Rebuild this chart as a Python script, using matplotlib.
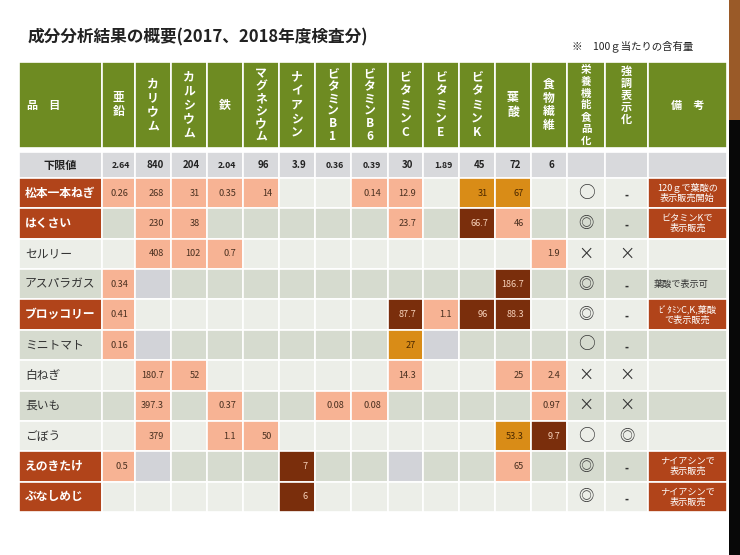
import matplotlib.pyplot as plt
from matplotlib.patches import Rectangle

plt.rcParams['font.family'] = ['Noto Sans CJK JP', 'DejaVu Sans']

# column headers (nutrients), lower limits and rows
nutrients = ['亜鉛', 'カリウム', 'カルシウム', '鉄', 'マグネシウム', 'ナイアシン',
             'ビタミンB1', 'ビタミンB6', 'ビタミンC', 'ビタミンE', 'ビタミンK',
             '葉酸', '食物繊維']
lower_limit = ['2.64', '840', '204', '2.04', '96', '3.9', '0.36', '0.39',
               '30', '1.89', '45', '72', '6']

items = ['松本一本ねぎ', 'はくさい', 'セルリー', 'アスパラガス', 'ブロッコリー',
         'ミニトマト', '白ねぎ', '長いも', 'ごぼう', 'えのきたけ', 'ぶなしめじ']
highlight_item = [True, True, False, False, True, False, False, False, False, True, True]

values = [
    ['0.26', '268', '31', '0.35', '14', '', '', '0.14', '12.9', '', '31', '67', ''],
    ['', '230', '38', '', '', '', '', '', '23.7', '', '66.7', '46', ''],
    ['', '408', '102', '0.7', '', '', '', '', '', '', '', '', '1.9'],
    ['0.34', '', '', '', '', '', '', '', '', '', '', '186.7', ''],
    ['0.41', '', '', '', '', '', '', '', '87.7', '1.1', '96', '88.3', ''],
    ['0.16', '', '', '', '', '', '', '', '27', '', '', '', ''],
    ['', '180.7', '52', '', '', '', '', '', '14.3', '', '', '25', '2.4'],
    ['', '397.3', '', '0.37', '', '', '0.08', '0.08', '', '', '', '', '0.97'],
    ['', '379', '', '1.1', '50', '', '', '', '', '', '', '53.3', '9.7'],
    ['0.5', '', '', '', '', '7', '', '', '', '', '', '65', ''],
    ['', '', '', '', '', '6', '', '', '', '', '', '', ''],
]
# level of each cell: . none, s light, o middle, d high, g grey
levels = [
    'sssss..ss.oo.',
    '.ss.....s.ds.',
    '.sss........s',
    'sg.........d.',
    's.......dsdd.',
    'sg......og...',
    '.ss.....s..ss',
    '.s.s..ss....s',
    '.s.ss......od',
    'sg...d..g..s.',
    '.....d.......',
]
functional = ['○', '◎', '×', '◎', '◎', '○', '×', '×', '○', '◎', '◎']
emphasis = ['-', '-', '×', '-', '-', '-', '×', '×', '◎', '-', '-']
remarks = ['120ｇで葉酸の\n表示販売開始', 'ビタミンKで\n表示販売', '', '葉酸で表示可',
           'ﾋﾞﾀﾐﾝC,K,葉酸\nで表示販売', '', '', '', '', 'ナイアシンで\n表示販売',
           'ナイアシンで\n表示販売']
remark_boxed = [True, True, False, False, True, False, False, False, False, True, True]

green = '#6e8b22'
brick = '#b1441a'
fills = {'s': '#f7b394', 'o': '#d98c17', 'd': '#7a2e0c', 'g': '#d2d3d8'}
text_col = {'s': '#4a3020', 'o': '#4a2800', 'd': '#f6d0b8', 'g': '#333333'}
row_bg = ['#eceee8', '#d6dbcf']

fig = plt.figure(figsize=(7.4, 5.55), dpi=100)
ax = fig.add_axes([0, 0, 1, 1])
ax.set_xlim(0, 740)
ax.set_ylim(555, 0)
ax.axis('off')

edges = [19, 102, 135, 171, 207, 243, 279, 315, 351, 388, 423, 459, 495,
         531, 567, 605, 648, 727]
head_top, head_bot = 62, 148
lim_top, lim_bot = 152, 178
row_h = (512 - 178) / len(items)


def cell(x0, x1, y0, y1, color):
    ax.add_patch(Rectangle((x0, y0), x1 - x0, y1 - y0, facecolor=color,
                           edgecolor='white', linewidth=1.2))


# right side decoration
ax.add_patch(Rectangle((729, 0), 11, 120, facecolor='#9a5a28', edgecolor='none'))
ax.add_patch(Rectangle((729, 120), 11, 435, facecolor='#080808', edgecolor='none'))

ax.text(28, 37, '成分分析結果の概要(2017、2018年度検査分)', fontsize=12,
        fontweight='bold', color='#222222', va='center')
ax.text(572, 46, '※　100ｇ当たりの含有量', fontsize=7.5, color='#222222', va='center')

# header
headers = ['品　目'] + nutrients + ['栄養機能食品化', '強調表示化', '備　考']
for i, h in enumerate(headers):
    x0, x1 = edges[i], edges[i + 1]
    xm = (x0 + x1) / 2
    cell(x0, x1, head_top, head_bot, green)
    if i == 0:
        ax.text(x0 + 8, (head_top + head_bot) / 2, h, color='white', fontsize=8,
                fontweight='bold', va='center', ha='left')
    elif i == len(headers) - 1:
        ax.text(xm, (head_top + head_bot) / 2, h, color='white',
                fontsize=8, fontweight='bold', va='center', ha='center')
    elif len(h) >= 7:
        # long vertical header: place each character
        for k, ch in enumerate(h):
            ax.text(xm, head_top + 8 + k * 11.8, ch, color='white', fontsize=7.5,
                    fontweight='bold', va='center', ha='center')
    elif i == len(headers) - 2:
        for k, ch in enumerate(h):
            ax.text(xm, head_top + 9 + k * 12, ch, color='white', fontsize=8,
                    fontweight='bold', va='center', ha='center')
    else:
        ls = 0.95 if len(h) >= 6 else 1.1
        ax.text(xm, (head_top + head_bot) / 2, '\n'.join(h),
                color='white', fontsize=8.5, fontweight='bold', va='center',
                ha='center', linespacing=ls)

# lower limit row
for i in range(len(headers)):
    cell(edges[i], edges[i + 1], lim_top, lim_bot, '#d8d9dc')
ax.text((edges[0] + edges[1]) / 2, (lim_top + lim_bot) / 2, '下限値',
        fontsize=8, fontweight='bold', ha='center', va='center', color='#222222')
for j, v in enumerate(lower_limit):
    ax.text((edges[j + 1] + edges[j + 2]) / 2 + 2, (lim_top + lim_bot) / 2, v,
            fontsize=7 if len(v) < 4 else 6.3, fontweight='bold', ha='center',
            va='center', color='#222222')

# data rows
for r, name in enumerate(items):
    y0 = lim_bot + r * row_h
    y1 = y0 + row_h
    ym = (y0 + y1) / 2
    bg = row_bg[r % 2]
    if highlight_item[r]:
        cell(edges[0], edges[1], y0, y1, brick)
        ax.text(edges[0] + 6, ym, name, fontsize=8.5, fontweight='bold',
                color='white', va='center')
    else:
        cell(edges[0], edges[1], y0, y1, bg)
        ax.text(edges[0] + 6, ym, name, fontsize=8.5, color='#333333', va='center')
    for j in range(len(nutrients)):
        lv = levels[r][j]
        x0, x1 = edges[j + 1], edges[j + 2]
        cell(x0, x1, y0, y1, fills.get(lv, bg))
        if values[r][j]:
            ax.text(x1 - 7, ym, values[r][j], fontsize=6.6, ha='right',
                    va='center', color=text_col.get(lv, '#333333'))
    # symbol columns
    for k, sym in enumerate([functional[r], emphasis[r]]):
        x0, x1 = edges[14 + k], edges[15 + k]
        cell(x0, x1, y0, y1, bg)
        if sym == '-':
            ax.text((x0 + x1) / 2, ym + 2, '-', fontsize=8, fontweight='bold',
                    ha='center', va='center', color='#333333')
        else:
            ax.text((x0 + x1) / 2, ym, sym, fontsize=12 if sym == '○' else 11,
                    ha='center', va='center', color='#333333')
    # remarks
    x0, x1 = edges[16], edges[17]
    if remark_boxed[r]:
        cell(x0, x1, y0, y1, brick)
        ax.text((x0 + x1) / 2, ym, remarks[r], fontsize=6.6, color='white',
                ha='center', va='center', linespacing=1.15)
    else:
        cell(x0, x1, y0, y1, bg)
        if remarks[r]:
            ax.text(x0 + 6, ym, remarks[r], fontsize=6.6, color='#333333',
                    ha='left', va='center')

fig.savefig('out.png', dpi=100)
